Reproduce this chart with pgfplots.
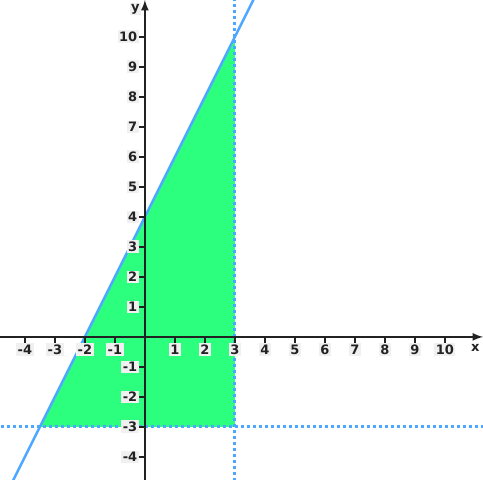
\documentclass[border=0pt]{standalone}
\usepackage{fontspec}
\setmainfont{DejaVu Sans}
\usepackage{pgfplots}
\pgfplotsset{compat=1.18}
\definecolor{fillgreen}{RGB}{44,255,126}
\definecolor{lineblue}{RGB}{77,166,255}
\definecolor{axisgray}{RGB}{34,34,34}
\definecolor{halo}{RGB}{240,240,240}
\begin{document}
\begin{tikzpicture}
\begin{axis}[
  scale only axis,
  width=483pt, height=480pt,
  xmin=-4.83, xmax=11.27, ymin=-4.77, ymax=11.23,
  axis lines=middle,
  axis line style={axisgray, line width=2.5pt, -latex},
  axis on top,
  xtick={-4,-3,-2,-1,1,2,3,4,5,6,7,8,9,10},
  ytick={-4,-3,-2,-1,1,2,3,4,5,6,7,8,9,10},
  tick style={axisgray, line width=2pt},
  major tick length=6pt,
  tick align=outside,
  /pgf/number format/assume math mode=true,
  ticklabel style={font=\fontsize{13}{13}\selectfont\bfseries, text=axisgray, fill=halo, inner sep=1.5pt},
  xlabel={x}, ylabel={y},
  xlabel style={font=\fontsize{13}{13}\selectfont\bfseries, text=axisgray, anchor=north east, at={(ticklabel* cs:1)}, yshift=-4pt},
  ylabel style={font=\fontsize{13}{13}\selectfont\bfseries, text=axisgray, anchor=north east, at={(ticklabel* cs:1)}, xshift=-4pt, yshift=-3pt, fill=halo, inner sep=1pt},
]
\addplot[fill=fillgreen, draw=none] coordinates {(-3.5,-3) (3,-3) (3,10)} -- cycle;
\addplot[lineblue, line width=2.5pt] coordinates {(-5,-6) (4,12)};
\addplot[lineblue, line width=3pt, dash pattern=on 3pt off 3pt] coordinates {(3,-6) (3,12)};
\addplot[lineblue, line width=3pt, dash pattern=on 3pt off 3pt] coordinates {(-6,-3) (12,-3)};
\end{axis}
\pgfresetboundingbox
\path (current axis.south west) rectangle (current axis.north east);
\end{tikzpicture}
\end{document}
